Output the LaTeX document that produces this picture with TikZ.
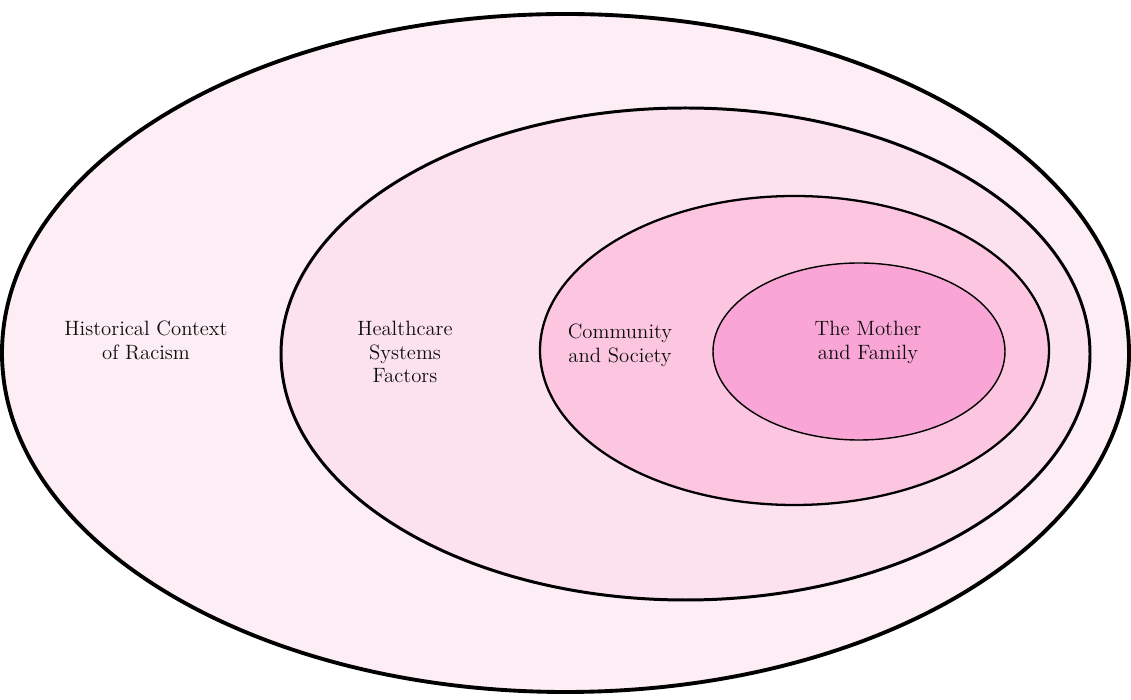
\documentclass[tikz,border=0pt]{standalone}
\usepackage{tikz}
\usetikzlibrary{shapes.geometric, positioning}

\definecolor{pinkA}{HTML}{FCEEF4}
\definecolor{pinkB}{HTML}{FCE1EE}
\definecolor{pinkC}{HTML}{FCC6E1}
\definecolor{pinkD}{HTML}{F9A6D6}

\begin{document}
\begin{tikzpicture}
[layer/.style={ellipse, draw=black, inner sep=0pt},
 layertext/.style={align=center, font=\fontsize{11.8}{13.6}\selectfont, text=black!95}
]
\useasboundingbox (0,0) rectangle (22.62,14);

% layers, outermost first
\node[layer, line width=2.2pt, fill=pinkA, minimum width=22.54cm, minimum height=13.56cm] (history) at (11.31,6.94) {};
\node[layer, line width=1.7pt, fill=pinkB, minimum width=16.18cm, minimum height=9.84cm] (healthcare) at (13.71,6.92) {};
\node[layer, line width=1.3pt, fill=pinkC, minimum width=10.18cm, minimum height=6.18cm] (community) at (15.89,6.99) {};
\node[layer, line width=0.8pt, fill=pinkD, minimum width=5.84cm, minimum height=3.54cm] (mother) at (17.18,6.97) {};

% labels
\node[layertext] (historytext) at (2.92,7.20) {Historical Context\\of Racism};
\node[layertext] (healthtext) at (8.10,6.96) {Healthcare\\Systems\\Factors};
\node[layertext] (communitytext) at (12.40,7.10) {Community\\and Society};
\node[layertext] (mothertext) at (17.36,7.16) {The Mother\\and Family};
\end{tikzpicture}
\end{document}
